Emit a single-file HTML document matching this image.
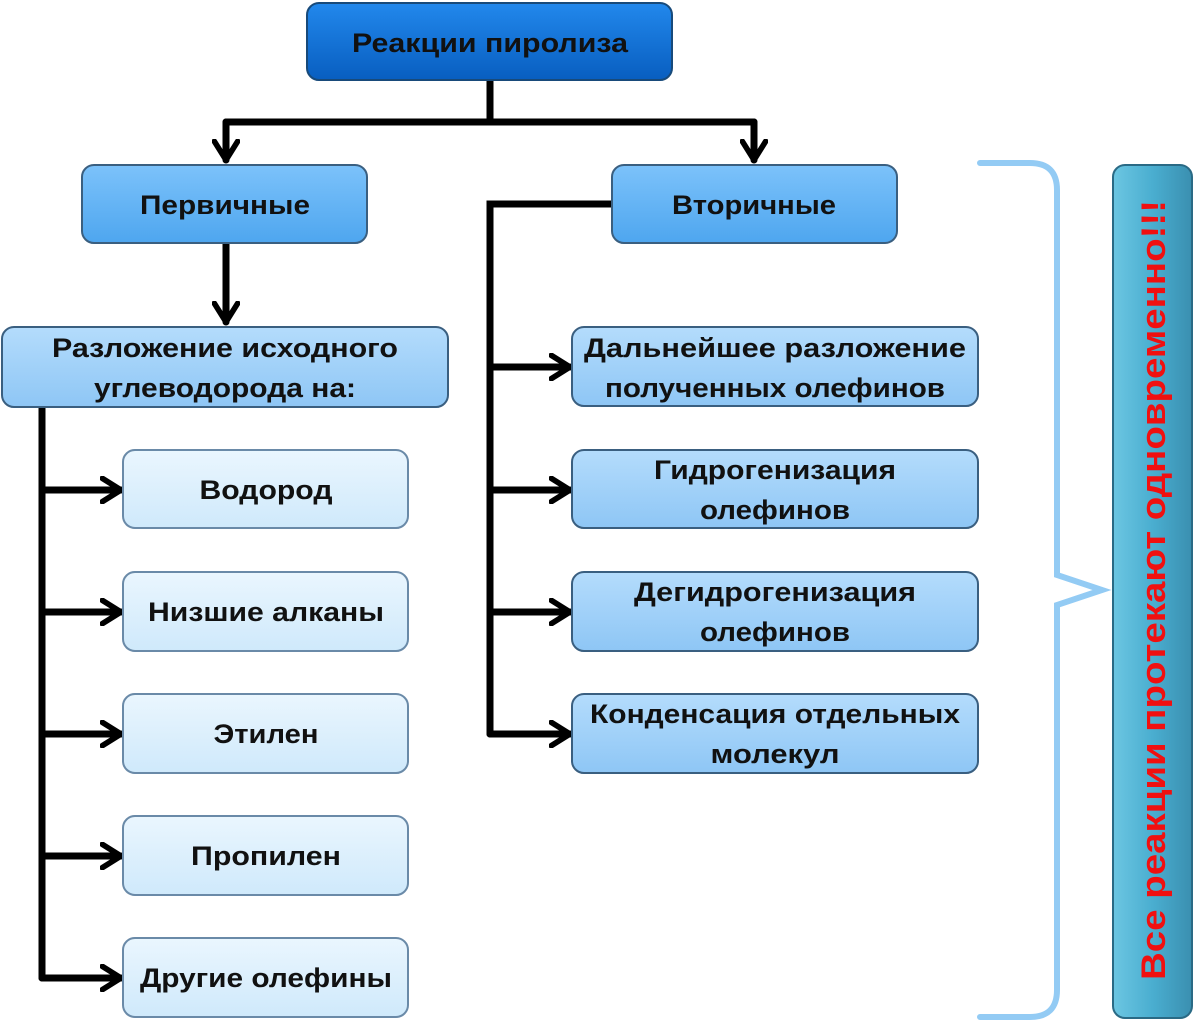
<!DOCTYPE html>
<html><head><meta charset="utf-8"><style>
html,body{margin:0;padding:0;background:#fff;width:1200px;height:1024px;overflow:hidden}
text{font-family:"Liberation Sans",sans-serif;font-weight:bold;fill:#111}
</style></head><body>
<svg width="1200" height="1024" viewBox="0 0 1200 1024" xmlns="http://www.w3.org/2000/svg">
<defs>
<linearGradient id="gTop" x1="0" y1="0" x2="0" y2="1"><stop offset="0" stop-color="#2288ec"/><stop offset="1" stop-color="#085ec0"/></linearGradient>
<linearGradient id="gMid" x1="0" y1="0" x2="0" y2="1"><stop offset="0" stop-color="#7cc2fa"/><stop offset="1" stop-color="#4ea6ef"/></linearGradient>
<linearGradient id="gL" x1="0" y1="0" x2="0" y2="1"><stop offset="0" stop-color="#b4dcfc"/><stop offset="1" stop-color="#8ec6f5"/></linearGradient>
<linearGradient id="gLight" x1="0" y1="0" x2="0" y2="1"><stop offset="0" stop-color="#eaf6fe"/><stop offset="1" stop-color="#cfe9fb"/></linearGradient>
<linearGradient id="gTeal" x1="0" y1="0" x2="1" y2="0"><stop offset="0" stop-color="#6cc6e2"/><stop offset="0.5" stop-color="#4aaed0"/><stop offset="1" stop-color="#3a8fb0"/></linearGradient>
<marker id="ar" viewBox="0 0 12 12" refX="9" refY="6" markerWidth="4" markerHeight="4" orient="auto" markerUnits="strokeWidth">
<path d="M1,1 L9,6 L1,11" fill="none" stroke="#000" stroke-width="2.4" stroke-linecap="round" stroke-linejoin="round"/></marker>
</defs>
<g stroke="#000" stroke-width="7" fill="none" stroke-linecap="round">
<path d="M490 80 V122 M226 122 H754"/>
<path d="M226 122 V160" marker-end="url(#ar)"/>
<path d="M754 122 V160" marker-end="url(#ar)"/>
<path d="M226 243 V322" marker-end="url(#ar)"/>
<path d="M42 407 V978"/>
<path d="M42 490 H121" marker-end="url(#ar)"/>
<path d="M42 612 H121" marker-end="url(#ar)"/>
<path d="M42 734 H121" marker-end="url(#ar)"/>
<path d="M42 856 H121" marker-end="url(#ar)"/>
<path d="M42 978 H121" marker-end="url(#ar)"/>
<path d="M612 204 H490 V734"/>
<path d="M490 367 H570" marker-end="url(#ar)"/>
<path d="M490 490 H570" marker-end="url(#ar)"/>
<path d="M490 612 H570" marker-end="url(#ar)"/>
<path d="M490 734 H570" marker-end="url(#ar)"/>
</g>
<g stroke="#3a5f80" stroke-width="2">
<rect x="307" y="3" width="365" height="77" rx="12" fill="url(#gTop)" stroke="#184a7a"/>
<rect x="82" y="165" width="285" height="78" rx="12" fill="url(#gMid)"/>
<rect x="612" y="165" width="285" height="78" rx="12" fill="url(#gMid)"/>
<rect x="2" y="327" width="446" height="80" rx="12" fill="url(#gL)"/>
<rect x="123" y="450" width="285" height="78" rx="12" fill="url(#gLight)" stroke="#6a8aa8"/>
<rect x="123" y="572" width="285" height="79" rx="12" fill="url(#gLight)" stroke="#6a8aa8"/>
<rect x="123" y="694" width="285" height="79" rx="12" fill="url(#gLight)" stroke="#6a8aa8"/>
<rect x="123" y="816" width="285" height="79" rx="12" fill="url(#gLight)" stroke="#6a8aa8"/>
<rect x="123" y="938" width="285" height="79" rx="12" fill="url(#gLight)" stroke="#6a8aa8"/>
<rect x="572" y="327" width="406" height="79" rx="12" fill="url(#gL)"/>
<rect x="572" y="450" width="406" height="78" rx="12" fill="url(#gL)"/>
<rect x="572" y="572" width="406" height="79" rx="12" fill="url(#gL)"/>
<rect x="572" y="694" width="406" height="79" rx="12" fill="url(#gL)"/>
<rect x="1113" y="165" width="79" height="853" rx="12" fill="url(#gTeal)" stroke="#2a6a85"/>
</g>
<path d="M980 163 H1030 Q1057 163 1057 190 V575 L1102 590 L1057 605 V990 Q1057 1017 1030 1017 H980" fill="none" stroke="#93cbf4" stroke-width="6" stroke-linecap="round"/>
<g font-size="27" text-anchor="middle" lengthAdjust="spacingAndGlyphs">
<text x="490" y="52" textLength="276" lengthAdjust="spacingAndGlyphs">Реакции пиролиза</text>
<text x="225" y="214" textLength="170" lengthAdjust="spacingAndGlyphs">Первичные</text>
<text x="754" y="214" textLength="164" lengthAdjust="spacingAndGlyphs">Вторичные</text>
<text x="225" y="357" textLength="346" lengthAdjust="spacingAndGlyphs">Разложение исходного</text>
<text x="225" y="397" textLength="262" lengthAdjust="spacingAndGlyphs">углеводорода на:</text>
<text x="266" y="499" textLength="133" lengthAdjust="spacingAndGlyphs">Водород</text>
<text x="266" y="621" textLength="236" lengthAdjust="spacingAndGlyphs">Низшие алканы</text>
<text x="266" y="743" textLength="105" lengthAdjust="spacingAndGlyphs">Этилен</text>
<text x="266" y="865" textLength="150" lengthAdjust="spacingAndGlyphs">Пропилен</text>
<text x="266" y="987" textLength="252" lengthAdjust="spacingAndGlyphs">Другие олефины</text>
<text x="775" y="357" textLength="382" lengthAdjust="spacingAndGlyphs">Дальнейшее разложение</text>
<text x="775" y="397" textLength="340" lengthAdjust="spacingAndGlyphs">полученных олефинов</text>
<text x="775" y="479" textLength="242" lengthAdjust="spacingAndGlyphs">Гидрогенизация</text>
<text x="775" y="519" textLength="150" lengthAdjust="spacingAndGlyphs">олефинов</text>
<text x="775" y="601" textLength="282" lengthAdjust="spacingAndGlyphs">Дегидрогенизация</text>
<text x="775" y="641" textLength="150" lengthAdjust="spacingAndGlyphs">олефинов</text>
<text x="775" y="723" textLength="370" lengthAdjust="spacingAndGlyphs">Конденсация отдельных</text>
<text x="775" y="763" textLength="129" lengthAdjust="spacingAndGlyphs">молекул</text>
</g>
<text transform="translate(1165,590) rotate(-90)" font-size="34" text-anchor="middle" style="fill:#f01010" textLength="780" lengthAdjust="spacingAndGlyphs">Все реакции протекают одновременно!!!</text>
</svg>
</body></html>
